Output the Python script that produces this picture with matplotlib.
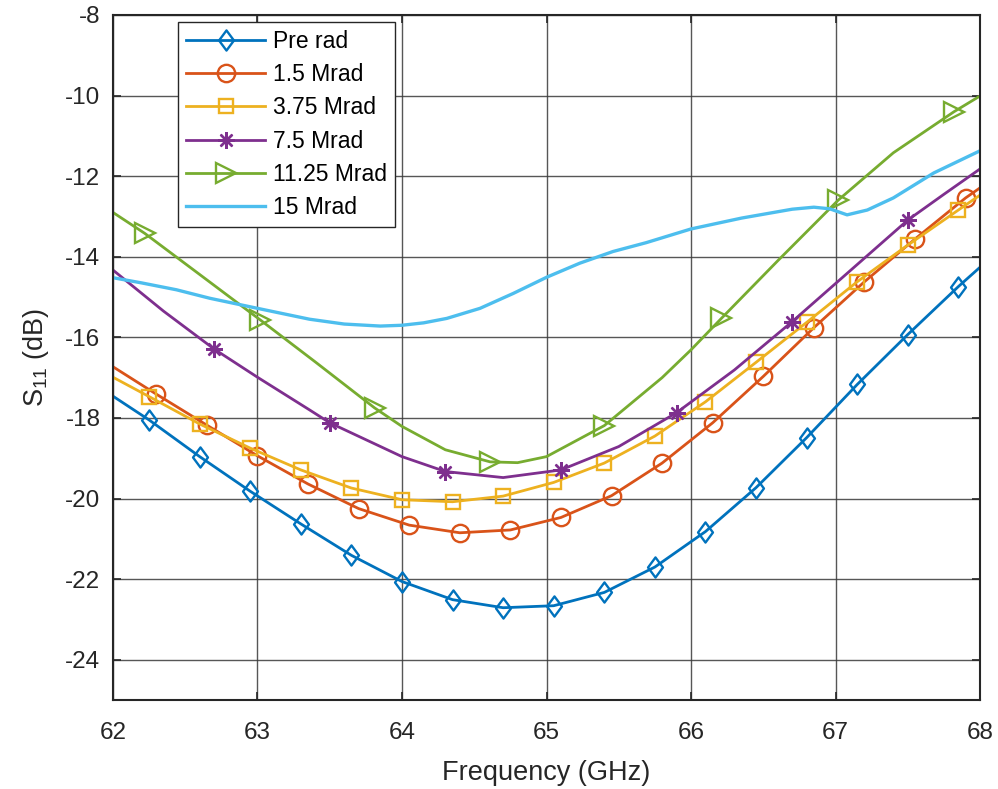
import numpy as np
import matplotlib
matplotlib.use('Agg')
import matplotlib.pyplot as plt
from matplotlib.path import Path

plt.rcParams['font.family'] = ['Liberation Sans', 'DejaVu Sans']
plt.rcParams['mathtext.fontset'] = 'custom'
plt.rcParams['mathtext.rm'] = 'Liberation Sans'
plt.rcParams['axes.unicode_minus'] = False

# data (GHz, dB)
f_pre = [62.0, 62.25, 62.6, 62.95, 63.3, 63.65, 64.0, 64.35, 64.7, 65.05,
         65.4, 65.75, 66.1, 66.45, 66.8, 67.15, 67.5, 67.85, 68.0]
s_pre = [-17.46, -18.05, -18.96, -19.82, -20.63, -21.41, -22.06, -22.51, -22.71, -22.66,
         -22.33, -21.70, -20.82, -19.73, -18.49, -17.17, -15.93, -14.74, -14.26]

f_15 = [62.0, 62.3, 62.65, 63.0, 63.35, 63.7, 64.05, 64.4, 64.75, 65.1,
        65.45, 65.8, 66.15, 66.5, 66.85, 67.2, 67.55, 67.9, 68.0]
s_15 = [-16.73, -17.41, -18.18, -18.94, -19.64, -20.25, -20.66, -20.85, -20.78, -20.47,
        -19.93, -19.12, -18.12, -16.97, -15.76, -14.62, -13.56, -12.54, -12.29]

f_375 = [62.0, 62.25, 62.6, 62.95, 63.3, 63.65, 64.0, 64.35, 64.7, 65.05,
         65.4, 65.75, 66.1, 66.45, 66.8, 67.15, 67.5, 67.85, 68.0]
s_375 = [-16.99, -17.47, -18.15, -18.75, -19.29, -19.74, -20.03, -20.08, -19.94, -19.60,
         -19.12, -18.45, -17.60, -16.62, -15.63, -14.62, -13.71, -12.84, -12.47]

f_75 = [62.0, 62.35, 62.7, 63.0, 63.36, 63.5, 64.0, 64.3, 64.7, 65.1,
        65.5, 65.9, 66.3, 66.7, 67.1, 67.5, 67.75, 68.0]
s_75 = [-14.33, -15.35, -16.29, -16.99, -17.80, -18.12, -18.96, -19.33, -19.48, -19.29,
        -18.71, -17.87, -16.81, -15.61, -14.35, -13.09, -12.45, -11.82]
mk_75 = [2, 5, 7, 9, 11, 13, 15]

f_1125 = [62.0, 62.22, 62.6, 63.02, 63.4, 63.81, 64.0, 64.3, 64.61, 64.8,
          65.0, 65.4, 65.8, 66.0, 66.21, 66.6, 67.02, 67.4, 67.82, 68.0]
s_1125 = [-12.90, -13.42, -14.44, -15.57, -16.61, -17.75, -18.21, -18.79, -19.09, -19.11,
          -18.96, -18.19, -17.00, -16.31, -15.53, -14.10, -12.59, -11.42, -10.40, -10.01]
mk_1125 = [1, 3, 5, 8, 11, 14, 16, 18]

f_15m = [62.0, 62.2, 62.44, 62.67, 63.0, 63.36, 63.6, 63.85, 64.0, 64.15, 64.31,
         64.54, 64.77, 65.0, 65.23, 65.46, 65.69, 66.0, 66.35, 66.7, 66.85, 66.96,
         67.08, 67.22, 67.4, 67.68, 68.0]
s_15m = [-14.52, -14.65, -14.82, -15.03, -15.28, -15.55, -15.67, -15.72, -15.70, -15.64, -15.53,
         -15.28, -14.91, -14.51, -14.16, -13.87, -13.65, -13.31, -13.04, -12.82, -12.77, -12.81,
         -12.96, -12.84, -12.54, -11.92, -11.37]

# tall diamond like matlab's
diamond = Path([(0, 1), (0.74, 0), (0, -1), (-0.74, 0), (0, 1)],
               [Path.MOVETO, Path.LINETO, Path.LINETO, Path.LINETO, Path.CLOSEPOLY])

fig = plt.figure(figsize=(9.98, 7.89), dpi=100)
ax = fig.add_axes([0.1132, 0.1128, 0.8688, 0.8682])

lw = 2.0
mew = 1.7
ax.plot(f_pre, s_pre, color='#0072BD', lw=lw, marker=diamond, ms=14.5, mfc='none',
        mew=mew, markevery=list(range(1, 18)), label='Pre rad')
ax.plot(f_15, s_15, color='#D95319', lw=lw, marker='o', ms=12.5, mfc='none',
        mew=mew, markevery=list(range(1, 18)), label='1.5 Mrad')
ax.plot(f_375, s_375, color='#EDB120', lw=lw, marker='s', ms=10, mfc='none',
        mew=mew, markevery=list(range(1, 18)), label='3.75 Mrad')
ax.plot(f_75, s_75, color='#7E2F8E', lw=lw, marker=(8, 2, 0), ms=12,
        mew=mew, markevery=mk_75, label='7.5 Mrad')
ax.plot(f_1125, s_1125, color='#77AC30', lw=lw, marker='>', ms=14, mfc='none',
        mew=mew, markevery=mk_1125, label='11.25 Mrad')
ax.plot(f_15m, s_15m, color='#4DBEEE', lw=2.4, label='15 Mrad')

ax.set_xlim(62, 68)
ax.set_ylim(-25, -8)
ax.set_xticks(np.arange(62, 69, 1))
ax.set_yticks(np.arange(-24, -7, 2))
ax.grid(True, color='#3a3a3a', lw=1.0, alpha=0.85)
ax.set_axisbelow(True)
for sp in ax.spines.values():
    sp.set_color('#262626')
    sp.set_linewidth(1.5)
ax.tick_params(direction='in', length=6, width=1.2, top=True, right=True,
               labelsize=17.5, colors='#262626')
ax.tick_params(axis='x', pad=16)
ax.tick_params(axis='y', pad=9)
for lab in ax.get_xticklabels() + ax.get_yticklabels():
    lab.set_color('#262626')

ax.set_xlabel('Frequency (GHz)', fontsize=19.5, color='#262626', labelpad=11)
ax.set_ylabel(r'S$_{11}$ (dB)', fontsize=19.5, color='#262626', labelpad=10)

leg = ax.legend(loc='upper left', bbox_to_anchor=(0.075, 0.99), borderaxespad=0,
                fontsize=16.5, handlelength=3.45, labelspacing=0.45,
                fancybox=False, framealpha=1, edgecolor='#262626',
                borderpad=0.35, handletextpad=0.35)
leg.get_frame().set_linewidth(1.0)

fig.savefig('out.png', dpi=100)
